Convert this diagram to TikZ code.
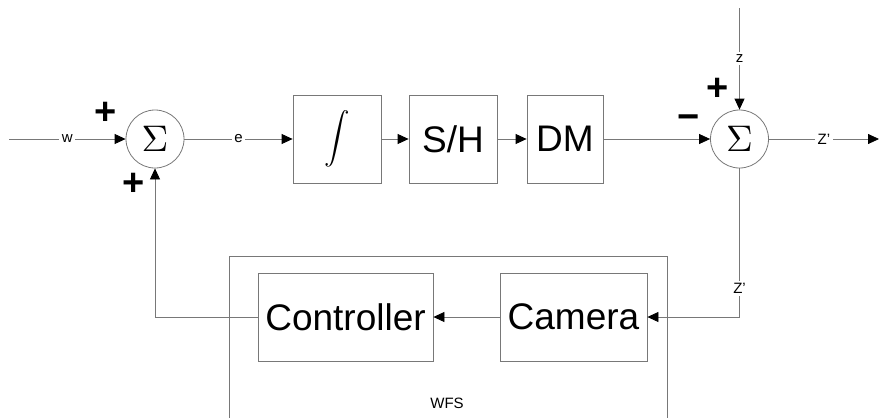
\documentclass[tikz,border=0pt]{standalone}
\usepackage{graphicx}
\usepackage{fontspec}
\setmainfont{Liberation Sans}
\usetikzlibrary{arrows.meta, positioning}
\definecolor{lineColor}{RGB}{120,120,120}

\begin{document}
\begin{tikzpicture}[
    x=1pt, y=-1pt,
    block/.style={
        draw=lineColor, line width=0.8pt, minimum height=88pt,
        inner sep=0pt, font=\fontsize{37}{40}\selectfont
    },
    sumnode/.style={
        draw=lineColor, line width=0.8pt, circle, minimum size=58pt,
        inner sep=0pt
    },
    wire/.style={draw=lineColor, line width=0.8pt},
    conn/.style={wire, -{Triangle[length=11pt, width=10pt, color=black]}},
    sig-label/.style={fill=white, inner sep=2.5pt, font=\fontsize{15}{16}\selectfont},
    sign-mark/.style={font=\fontsize{38}{40}\selectfont\bfseries, inner sep=0pt}
]
    \useasboundingbox (0,0) rectangle (880,418);

    % Forward path: sum, integrator, S/H, DM, sum.
    \node[sumnode] (sumA) at (155,139) {\scalebox{3.7}{$\Sigma$}};
    \node[block, minimum width=88pt] (integ) at (337,139) {\scalebox{2.55}{$\displaystyle\int$}};
    \node[block, minimum width=88pt] (sh) at (453,139) {S/H};
    \node[block, minimum width=76pt] (dm) at (565,139) {DM};
    \node[sumnode] (sumB) at (739.5,139) {\scalebox{3.7}{$\Sigma$}};

    % Feedback path inside the WFS.
    \node[block, minimum width=175pt] (ctrl) at (345.5,317) {Controller};
    \node[block, minimum width=147pt] (cam) at (573.5,317) {Camera};
    \draw[wire] (229,418) |- (667,256) -- (667,418);
    \node[font=\fontsize{15}{16}\selectfont] (wfs) at (447,403) {WFS};

    % Free ends and corners.
    \coordinate (win) at (9,139);
    \coordinate (zin) at (739.5,8);
    \coordinate (zout) at (879,139);
    \coordinate (zcorner) at (739.5,317);
    \coordinate (fbcorner) at (155,317);

    \draw[conn] (win) -- node[sig-label]{w} (sumA.west);
    \draw[conn] (sumA.east) -- node[sig-label]{e} (integ.west);
    \draw[conn] (integ) -- (sh);
    \draw[conn] (sh) -- (dm);
    \draw[conn] (dm) -- (sumB.west);
    \draw[conn] (zin) -- node[sig-label]{z} (sumB.north);
    \draw[conn] (sumB.east) -- node[sig-label]{Z'} (zout);
    \draw[conn] (sumB.south) -- node[sig-label, pos=0.81]{Z'} (zcorner) -- (cam.east);
    \draw[conn] (cam) -- (ctrl);
    \draw[conn] (ctrl.west) -- (fbcorner) -- (sumA.south);

    % Signs at the summing points.
    \node[sign-mark] (plusA) at (106,113) {+};
    \node[sign-mark] (plusB) at (134,184) {+};
    \node[sign-mark] (plusC) at (718,89) {+};
    \node[sign-mark] (minusC) at (689,122) {−};
\end{tikzpicture}
\end{document}
